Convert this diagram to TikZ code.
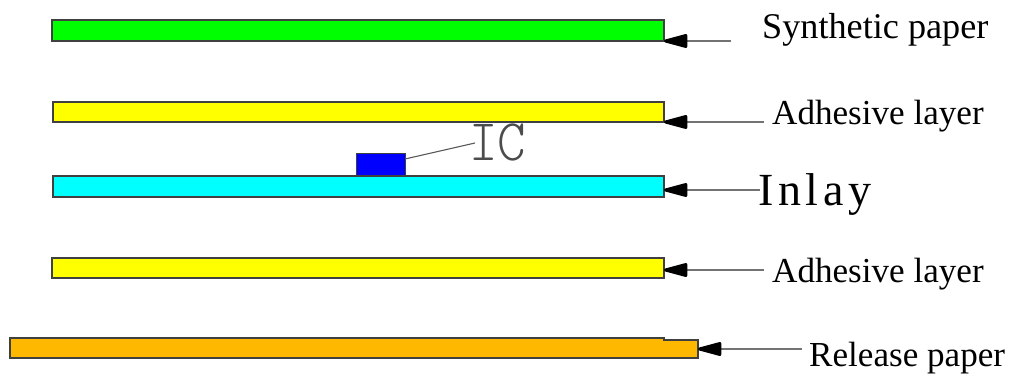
\documentclass[tikz,border=0pt]{standalone}
\usepackage{fontspec}
\usepackage{graphicx}
\setmainfont{Liberation Serif}
\newfontfamily\cadfont{Latin Modern Mono Light}
\newfontfamily\spacedfont[LetterSpace=10]{Liberation Serif}
\usetikzlibrary{arrows.meta,calc}
\definecolor{synth}{RGB}{0,255,0}
\definecolor{adh}{RGB}{255,255,0}
\definecolor{inlayc}{RGB}{0,255,255}
\definecolor{rel}{RGB}{255,184,0}
\definecolor{icc}{RGB}{0,0,255}
\tikzset{
  layerbar/.style={draw=black!75,line width=1.3pt,inner sep=0pt,outer sep=0pt,anchor=north west,minimum width=#1},
  leader/.style={draw=black!55,line width=1.2pt,-{Triangle[black,length=28pt,width=14pt,round,line width=3pt,fill=black]}},
  lab/.style={text=black,anchor=base west,inner sep=0pt},
  cad/.style={text=black!70,anchor=base west,inner sep=0pt},
}
\begin{document}
\begin{tikzpicture}[x=1pt,y=-1pt]
\useasboundingbox (0,0) rectangle (1011,374);
\node[layerbar=612pt,minimum height=21pt,fill=synth] (green) at (52,20) {};
\node[layerbar=611pt,minimum height=20pt,fill=adh] (adhA) at (53,102) {};
\node[layerbar=611pt,minimum height=21pt,fill=inlayc] (inlay) at (53,176) {};
\node[layerbar=612pt,minimum height=20pt,fill=adh] (adhB) at (52,258) {};
\node[layerbar=654pt,minimum height=20pt,fill=rel] (relA) at (10,338) {};
\node[layerbar=34pt,minimum height=18pt,fill=rel] (relB) at (664,340) {};
\fill[rel] (660,341) rectangle (666,357);
\node[layerbar=49pt,minimum height=22pt,fill=icc,line width=1pt] (chip) at (356,154) {};
\node[lab,font=\fontsize{36.2}{40}\selectfont] (tS) at (762,39) {Synthetic paper};
\node[lab,font=\fontsize{35.1}{40}\selectfont] (tA) at (772,125) {Adhesive layer};
\node[lab,font=\fontsize{35.1}{40}\selectfont] (tB) at (772,282) {Adhesive layer};
\node[lab,font=\fontsize{35.1}{40}\selectfont] (tR) at (809,366) {Release paper};
\node[cad] (tI) at (469,161) {\scalebox{0.92}[1]{\cadfont\fontsize{59}{62}\selectfont IC}};
\node[lab,font=\spacedfont\fontsize{46}{50}\selectfont] (tN) at (758,205) {Inlay};
\coordinate (eS) at (731,41);
\coordinate (eA) at (764,122);
\coordinate (eN) at (760,190);
\coordinate (eB) at (764,270);
\coordinate (eR) at (802,349);
\coordinate (eI) at (475,143);
\draw[leader] (eS) -- (green.south east);
\draw[leader] (eA) -- (adhA.south east);
\draw[leader] (eN) -- (inlay.south east |- eN);
\draw[leader] (eB) -- (adhB.south east |- eB);
\draw[leader] (eR) -- (relB.east);
\draw[draw=black!65,line width=1.1pt] (chip.east |- 0,159) -- (eI);
\end{tikzpicture}
\end{document}
